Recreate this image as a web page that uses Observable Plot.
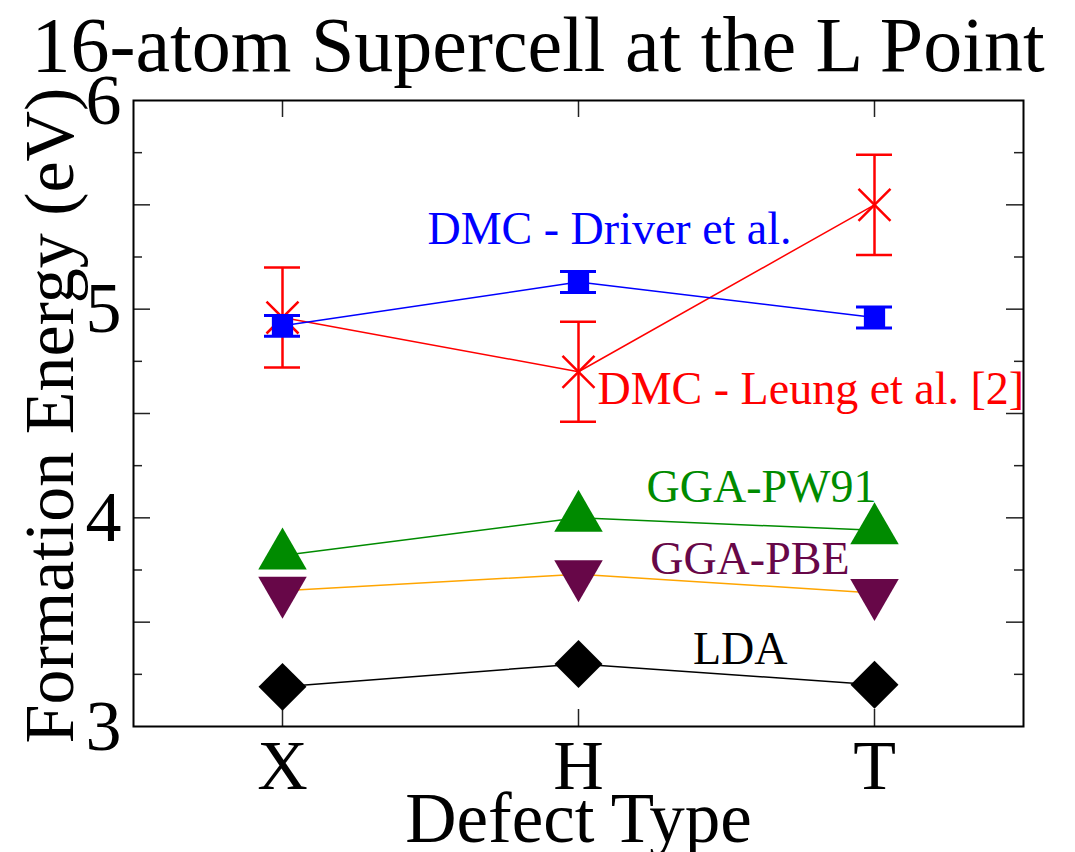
<!DOCTYPE html>
<html>
<head>
<meta charset="utf-8">
<script src="https://cdn.jsdelivr.net/npm/d3@7"></script>
<script src="https://cdn.jsdelivr.net/npm/@observablehq/plot@0.6"></script>
<style>
  body { margin: 0; background: #fff; }
</style>
</head>
<body>
<div id="chart"></div>
<script>
// Defect formation energies (eV) for the 16-atom supercell at the L point
const defectTypes = ["X", "H", "T"];
const ldaEnergy = [3.19, 3.30, 3.20];
const pbeEnergy = [3.65, 3.73, 3.64];
const pw91Energy = [3.82, 4.00, 3.94];
const leungEnergy = [4.96, 4.70, 5.50];
const leungError = [0.24, 0.24, 0.24];
const driverEnergy = [4.92, 5.13, 4.96];
const driverError = [0.05, 0.05, 0.05];

// Axis ticks
const yTickLabels = [3, 4, 5, 6];
const yMajorTicks = [3.5, 4, 4.5, 5, 5.5];
const yMinorTicks = [3.25, 3.75, 4.25, 4.75, 5.25, 5.75];

const series = (values, errors) =>
  defectTypes.map((type, i) => ({type, e: values[i], err: errors ? errors[i] : 0}));

const lda = series(ldaEnergy);
const pbe = series(pbeEnergy);
const pw91 = series(pw91Energy);
const leung = series(leungEnergy, leungError);
const driver = series(driverEnergy, driverError);

const W = 1075, H = 852;
const M = {top: 100, right: 52, bottom: 126, left: 133};
const plotW = W - M.left - M.right;
const plotH = H - M.top - M.bottom;
const majorLen = 17, minorLen = 9;

const serif = "'Liberation Serif', 'Times New Roman', serif";
const blue = "#0000ff", red = "#ff0000", green = "#008b00";
const maroon = "#670748", orange = "#ffa500";

// Downward-pointing triangle, mirror of d3.symbolTriangle
const triangleDown = {
  draw(context, size) {
    const y = Math.sqrt(size / (3 * Math.sqrt(3)));
    context.moveTo(0, 2 * y);
    context.lineTo(-Math.sqrt(3) * y, -y);
    context.lineTo(Math.sqrt(3) * y, -y);
    context.closePath();
  }
};

const at = (data, type) => data.filter(d => d.type === type);

const chart = Plot.plot({
  width: W,
  height: H,
  marginTop: M.top,
  marginRight: M.right,
  marginBottom: M.bottom,
  marginLeft: M.left,
  style: {fontFamily: serif, background: "#fff", overflow: "visible"},
  x: {type: "point", domain: defectTypes, padding: 0.5},
  y: {domain: [3, 6]},
  marks: [
    // inward tick marks on all four sides
    Plot.tickY(yMajorTicks, {y: d => d, insetRight: plotW - majorLen, stroke: "#222", strokeWidth: 1.5}),
    Plot.tickY(yMinorTicks, {y: d => d, insetRight: plotW - minorLen, stroke: "#222", strokeWidth: 1.5}),
    Plot.tickY(yMajorTicks, {y: d => d, insetLeft: plotW - majorLen, stroke: "#222", strokeWidth: 1.5}),
    Plot.tickY(yMinorTicks, {y: d => d, insetLeft: plotW - minorLen, stroke: "#222", strokeWidth: 1.5}),
    Plot.tickX(defectTypes, {x: d => d, insetTop: plotH - majorLen, stroke: "#222", strokeWidth: 1.5}),
    Plot.tickX(defectTypes, {x: d => d, insetBottom: plotH - majorLen, stroke: "#222", strokeWidth: 1.5}),
    Plot.frame({stroke: "#000", strokeWidth: 2}),

    Plot.axisY({ticks: yTickLabels, tickSize: 0, tickPadding: 12, fontSize: 72, label: null, tickFormat: d => String(d)}),
    Plot.axisX({tickSize: 0, tickPadding: 13, fontSize: 70, label: null}),

    // LDA
    Plot.line(lda, {x: "type", y: "e", stroke: "#000", strokeWidth: 1.5}),
    Plot.dot(lda, {x: "type", y: "e", symbol: "diamond2", r: 21.6, fill: "#000", stroke: "none"}),

    // GGA-PBE
    Plot.line(pbe, {x: "type", y: "e", stroke: orange, strokeWidth: 1.5}),
    Plot.dot(pbe, {x: "type", y: "e", symbol: triangleDown, r: 18, fill: maroon, stroke: "none"}),

    // GGA-PW91
    Plot.line(pw91, {x: "type", y: "e", stroke: green, strokeWidth: 1.5}),
    Plot.dot(pw91, {x: "type", y: "e", symbol: "triangle", r: 18, fill: green, stroke: "none"}),

    // DMC - Leung et al.
    Plot.line(leung, {x: "type", y: "e", stroke: red, strokeWidth: 1.5}),
    Plot.ruleX(leung, {x: "type", y1: d => d.e - d.err, y2: d => d.e + d.err, stroke: red, strokeWidth: 2.5}),
    Plot.ruleY(leung, {x1: "type", x2: "type", y: d => d.e + d.err, insetLeft: -18, insetRight: -18, stroke: red, strokeWidth: 2.5}),
    Plot.ruleY(leung, {x1: "type", x2: "type", y: d => d.e - d.err, insetLeft: -18, insetRight: -18, stroke: red, strokeWidth: 2.5}),
    Plot.dot(leung, {x: "type", y: "e", symbol: "times", r: 14.6, stroke: red, strokeWidth: 2.5}),

    // DMC - Driver et al.
    Plot.line(driver, {x: "type", y: "e", stroke: blue, strokeWidth: 1.5}),
    Plot.ruleX(driver, {x: "type", y1: d => d.e - d.err, y2: d => d.e + d.err, stroke: blue, strokeWidth: 2.5}),
    Plot.dot(driver, {x: "type", y: "e", symbol: "square", r: 12, fill: blue, stroke: "none"}),
    Plot.ruleY(driver, {x1: "type", x2: "type", y: d => d.e + d.err, insetLeft: -18, insetRight: -18, stroke: blue, strokeWidth: 3}),
    Plot.ruleY(driver, {x1: "type", x2: "type", y: d => d.e - d.err, insetLeft: -18, insetRight: -18, stroke: blue, strokeWidth: 3}),

    // series labels, placed next to a point of each series
    Plot.text(at(driver, "H"), {x: "type", y: "e", text: () => "DMC - Driver et al.", fill: blue, fontSize: 46, textAnchor: "start", lineAnchor: "bottom", dx: -151, dy: -38}),
    Plot.text(at(leung, "H"), {x: "type", y: "e", text: () => "DMC - Leung et al. [2]", fill: red, fontSize: 46, textAnchor: "start", lineAnchor: "bottom", dx: 19, dy: 32}),
    Plot.text(at(pw91, "T"), {x: "type", y: "e", text: () => "GGA-PW91", fill: green, fontSize: 46, textAnchor: "end", lineAnchor: "bottom", dx: 2, dy: -28}),
    Plot.text(at(pbe, "T"), {x: "type", y: "e", text: () => "GGA-PBE", fill: maroon, fontSize: 46, textAnchor: "end", lineAnchor: "bottom", dx: -25, dy: -19}),
    Plot.text(at(lda, "T"), {x: "type", y: "e", text: () => "LDA", fill: "#000", fontSize: 46, textAnchor: "end", lineAnchor: "bottom", dx: -87, dy: -21}),

    // title and axis labels
    Plot.text(["16-atom Supercell at the L Point"], {frameAnchor: "top-left", text: d => d, fontSize: 78, textAnchor: "start", lineAnchor: "bottom", dx: -102, dy: -30, fill: "#000"}),
    Plot.text(["Formation Energy (eV)"], {frameAnchor: "left", text: d => d, fontSize: 70, rotate: -90, textAnchor: "middle", lineAnchor: "bottom", dx: -61, dy: 2, fill: "#000"}),
    Plot.text(["Defect Type"], {frameAnchor: "bottom", text: d => d, fontSize: 71, textAnchor: "middle", lineAnchor: "bottom", dy: 115, fill: "#000"})
  ]
});

document.getElementById("chart").appendChild(chart);
</script>
</body>
</html>
